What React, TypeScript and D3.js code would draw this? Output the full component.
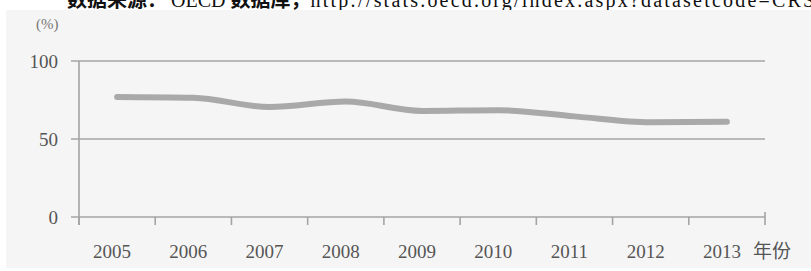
import * as d3 from 'd3';

const years = ['2005', '2006', '2007', '2008', '2009', '2010', '2011', '2012', '2013'];
const shares = [77, 76.5, 70.5, 74, 68, 68.5, 64.5, 60.7, 61];
const yTicks = [0, 50, 100];

const W = 811;
const H = 271;

function App() {
    const x = d3.scaleBand<string>().domain(years).range([79, 765]);
    const y = d3.scaleLinear().domain([0, 100]).range([217, 61]);

    const line = d3
        .line<number>()
        .x((_, i) => (x(years[i]) as number) + x.bandwidth() / 2)
        .y((d) => y(d))
        .curve(d3.curveMonotoneX);

    const boundaries = years.map((yr) => x(yr) as number).concat([x.range()[1]]);
    const serif = '"Liberation Serif", "DejaVu Serif", serif';
    const cjk = '"Noto Sans CJK SC", sans-serif';
    const axisColor = '#a4a4a4';

    return (
        <div style={{ position: 'fixed', left: 0, top: 0 }}>
            <svg width={W} height={H} style={{ display: 'block', background: '#fff' }}>
                {/* source line, clipped at the top like the scan */}
                <text x={67} y={7} fontSize={20} fill="#111" fontFamily={serif}>
                    <tspan fontWeight="bold" fontFamily={cjk}>数据来源：</tspan>
                    <tspan dx={4}>OECD </tspan>
                    <tspan fontWeight="bold" fontFamily={cjk}>数据库，</tspan>
                    <tspan letterSpacing={2.2}>http://stats.oecd.org/index.aspx?datasetcode=CRS1</tspan>
                </text>

                <rect x={6} y={10} width={W - 6} height={258} fill="#f5f5f5" />

                <text x={36} y={29} fontSize={15} fill="#777" fontFamily={serif}>(%)</text>

                {/* gridlines and y labels */}
                {yTicks.map((t) => (
                    <g key={t}>
                        <line x1={71} x2={765} y1={y(t)} y2={y(t)} stroke={axisColor} strokeWidth={1.6} />
                        <text
                            x={58}
                            y={y(t)}
                            dy="0.35em"
                            textAnchor="end"
                            fontSize={19}
                            fill="#555"
                            fontFamily={serif}
                        >
                            {t}
                        </text>
                    </g>
                ))}

                {/* y axis */}
                <line x1={79} x2={79} y1={y(100)} y2={225} stroke={axisColor} strokeWidth={1.6} />

                {/* x ticks */}
                {boundaries.map((b, i) => (
                    <line
                        key={i}
                        x1={b}
                        x2={b}
                        y1={i === boundaries.length - 1 ? 212 : y(0)}
                        y2={225}
                        stroke={axisColor}
                        strokeWidth={1.6}
                    />
                ))}

                {/* x labels */}
                {years.map((yr) => (
                    <text
                        key={yr}
                        x={(x(yr) as number) + x.bandwidth() / 2 - 5}
                        y={258}
                        textAnchor="middle"
                        fontSize={19}
                        fill="#555"
                        fontFamily={serif}
                    >
                        {yr}
                    </text>
                ))}
                <text x={753} y={258} fontSize={19} fill="#555" fontFamily={cjk}>
                    年份
                </text>

                {/* series */}
                <path
                    d={line(shares) ?? ''}
                    fill="none"
                    stroke="#a9a9a9"
                    strokeWidth={6}
                    strokeLinecap="round"
                    strokeLinejoin="round"
                />
            </svg>
        </div>
    );
}

export default App;
